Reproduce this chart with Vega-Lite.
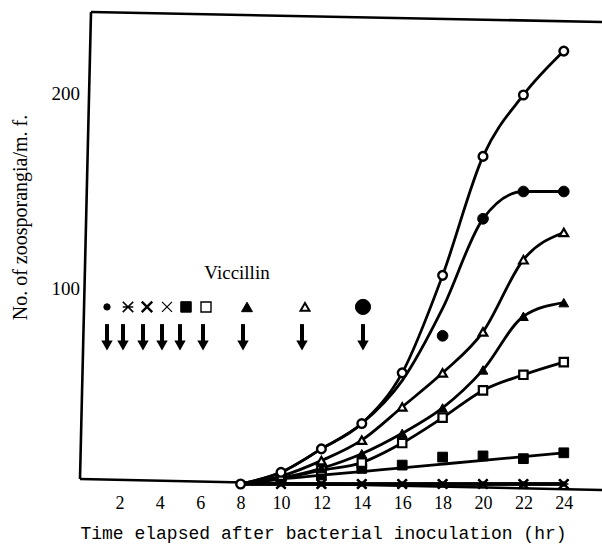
{
  "$schema": "https://vega.github.io/schema/vega-lite/v6.json",
  "width": 522,
  "height": 478,
  "autosize": "none",
  "padding": {"left": 80, "top": 12, "right": 0, "bottom": 57},
  "background": "white",
  "config": {"view": {"stroke": null}, "font": "Liberation Serif"},
  "datasets": {
    "pts": [
      {"s": "dot", "t": 8, "fit": 0, "n": null}, {"s": "dot", "t": 10, "fit": 0, "n": 0}, {"s": "dot", "t": 12, "fit": 0, "n": 0}, {"s": "dot", "t": 14, "fit": 0, "n": 0}, {"s": "dot", "t": 16, "fit": 0, "n": 0}, {"s": "dot", "t": 18, "fit": 0, "n": 0}, {"s": "dot", "t": 20, "fit": 0, "n": 0}, {"s": "dot", "t": 22, "fit": 0, "n": 0}, {"s": "dot", "t": 24, "fit": 0, "n": 0},
      {"s": "ast", "t": 8, "fit": 0, "n": null}, {"s": "ast", "t": 10, "fit": 0, "n": 0}, {"s": "ast", "t": 12, "fit": 0, "n": 0}, {"s": "ast", "t": 14, "fit": 0, "n": 0}, {"s": "ast", "t": 16, "fit": 0, "n": 0}, {"s": "ast", "t": 18, "fit": 0, "n": 0}, {"s": "ast", "t": 20, "fit": 0, "n": 0}, {"s": "ast", "t": 22, "fit": 0, "n": 0}, {"s": "ast", "t": 24, "fit": 0, "n": 0},
      {"s": "xb", "t": 8, "fit": 0, "n": null}, {"s": "xb", "t": 10, "fit": 0, "n": 0}, {"s": "xb", "t": 12, "fit": 0, "n": 0}, {"s": "xb", "t": 14, "fit": 0, "n": 0}, {"s": "xb", "t": 16, "fit": 0, "n": 0}, {"s": "xb", "t": 18, "fit": 0, "n": 0}, {"s": "xb", "t": 20, "fit": 0, "n": 0}, {"s": "xb", "t": 22, "fit": 0, "n": 0}, {"s": "xb", "t": 24, "fit": 0, "n": 0},
      {"s": "x", "t": 8, "fit": 0, "n": null}, {"s": "x", "t": 10, "fit": 0, "n": 0}, {"s": "x", "t": 12, "fit": 0, "n": 0}, {"s": "x", "t": 14, "fit": 0, "n": 0}, {"s": "x", "t": 16, "fit": 0, "n": 0}, {"s": "x", "t": 18, "fit": 0, "n": 0}, {"s": "x", "t": 20, "fit": 0, "n": 0}, {"s": "x", "t": 22, "fit": 0, "n": 0}, {"s": "x", "t": 24, "fit": 0, "n": 0},
      {"s": "fs", "t": 8, "fit": 0, "n": null}, {"s": "fs", "t": 10, "fit": 2.5, "n": 3}, {"s": "fs", "t": 12, "fit": 4.5, "n": 4.6}, {"s": "fs", "t": 14, "fit": 6.4, "n": 8}, {"s": "fs", "t": 16, "fit": 8.3, "n": 9.7}, {"s": "fs", "t": 18, "fit": 10.2, "n": 13.8}, {"s": "fs", "t": 20, "fit": 12.1, "n": 14.4}, {"s": "fs", "t": 22, "fit": 14, "n": 13}, {"s": "fs", "t": 24, "fit": 16, "n": 16},
      {"s": "os", "t": 8, "fit": 0, "n": null}, {"s": "os", "t": 10, "fit": 3, "n": 3}, {"s": "os", "t": 12, "fit": 7, "n": 7}, {"s": "os", "t": 14, "fit": 11, "n": 11}, {"s": "os", "t": 16, "fit": 21, "n": 21}, {"s": "os", "t": 18, "fit": 34, "n": 34}, {"s": "os", "t": 20, "fit": 48, "n": 48}, {"s": "os", "t": 22, "fit": 56, "n": 56}, {"s": "os", "t": 24, "fit": 62.5, "n": 62.5},
      {"s": "ft", "t": 8, "fit": 0, "n": null}, {"s": "ft", "t": 10, "fit": 3, "n": 3}, {"s": "ft", "t": 12, "fit": 8, "n": 8}, {"s": "ft", "t": 14, "fit": 15.5, "n": 15.5}, {"s": "ft", "t": 16, "fit": 26, "n": 26}, {"s": "ft", "t": 18, "fit": 39, "n": 39}, {"s": "ft", "t": 20, "fit": 58.5, "n": 58.5}, {"s": "ft", "t": 22, "fit": 86, "n": 86}, {"s": "ft", "t": 24, "fit": 93, "n": 93},
      {"s": "ot", "t": 8, "fit": 0, "n": null}, {"s": "ot", "t": 10, "fit": 4, "n": 4}, {"s": "ot", "t": 12, "fit": 12, "n": 12}, {"s": "ot", "t": 14, "fit": 22.5, "n": 22.5}, {"s": "ot", "t": 16, "fit": 39.5, "n": 39.5}, {"s": "ot", "t": 18, "fit": 57, "n": 57}, {"s": "ot", "t": 20, "fit": 78, "n": 78}, {"s": "ot", "t": 22, "fit": 115, "n": 115}, {"s": "ot", "t": 24, "fit": 129, "n": 129},
      {"s": "fc", "t": 8, "fit": 0, "n": null}, {"s": "fc", "t": 10, "fit": 6, "n": null}, {"s": "fc", "t": 12, "fit": 18, "n": null}, {"s": "fc", "t": 14, "fit": 31, "n": null}, {"s": "fc", "t": 16, "fit": 53, "n": null}, {"s": "fc", "t": 18, "fit": 90, "n": 76}, {"s": "fc", "t": 20, "fit": 136, "n": 136}, {"s": "fc", "t": 22, "fit": 150, "n": 150}, {"s": "fc", "t": 24, "fit": 150, "n": 150},
      {"s": "oc", "t": 8, "fit": 0, "n": 0}, {"s": "oc", "t": 10, "fit": 6, "n": 6}, {"s": "oc", "t": 12, "fit": 18, "n": 18}, {"s": "oc", "t": 14, "fit": 31, "n": 31}, {"s": "oc", "t": 16, "fit": 57, "n": 57}, {"s": "oc", "t": 18, "fit": 107, "n": 107}, {"s": "oc", "t": 20, "fit": 168, "n": 168}, {"s": "oc", "t": 22, "fit": 199.5, "n": 199.5}, {"s": "oc", "t": 24, "fit": 222, "n": 222}
    ],
    "key": [
      {"s": "k-dot", "t": 1.386, "n": 90.8},
      {"s": "k-ast", "t": 2.426, "n": 90.8},
      {"s": "k-xb", "t": 3.366, "n": 90.8},
      {"s": "k-x", "t": 4.356, "n": 90.8},
      {"s": "k-fs", "t": 5.297, "n": 90.8},
      {"s": "k-os", "t": 6.287, "n": 90.8},
      {"s": "k-ft", "t": 8.317, "n": 90.8},
      {"s": "k-ot", "t": 11.188, "n": 90.8},
      {"s": "k-fc", "t": 14.059, "n": 90.8}
    ],
    "arrows": [
      {"t": 1.386, "top": 82, "bottom": 71}, {"t": 2.178, "top": 82, "bottom": 71}, {"t": 3.168, "top": 82, "bottom": 71}, {"t": 4.109, "top": 82, "bottom": 71}, {"t": 5.0, "top": 82, "bottom": 71}, {"t": 6.139, "top": 82, "bottom": 71}, {"t": 8.119, "top": 82, "bottom": 71}, {"t": 11.04, "top": 82, "bottom": 71}, {"t": 14.059, "top": 82, "bottom": 71}
    ],
    "labels": [
      {"t": 7.822, "n": 108.2, "label": "Viccillin"}
    ],
    "frame": [{}]
  },
  "layer": [
    {
      "data": {"name": "pts"},
      "mark": {"type": "line", "interpolate": "monotone", "color": "black", "strokeWidth": 2.8},
      "encoding": {
        "x": {"field": "t", "type": "quantitative", "scale": {"domain": [0.0495, 25.891], "nice": false, "zero": false},
          "axis": {"values": [2, 4, 6, 8, 10, 12, 14, 16, 18, 20, 22, 24], "title": "Time elapsed after bacterial inoculation (hr)", "domain": false, "ticks": false, "tickSize": 0, "grid": false, "labelFlush": false, "labelFont": "Liberation Serif", "labelFontSize": 18, "labelColor": "black", "labelBaseline": "alphabetic", "labelPadding": 18, "titleFont": "Liberation Mono", "titleFontSize": 18, "titleFontWeight": "normal", "titleColor": "black", "titleX": 243, "titleY": 48, "titleAlign": "center", "titleBaseline": "alphabetic"}},
        "y": {"field": "fit", "type": "quantitative", "scale": {"domain": [-3.077, 242.05], "nice": false, "zero": false},
          "axis": {"values": [100, 200], "title": "No. of zoosporangia/m. f.", "domain": false, "ticks": false, "tickSize": 0, "grid": false, "labelFlush": false, "labelFont": "Liberation Serif", "labelFontSize": 19, "labelColor": "black", "labelPadding": 0.5, "titleFont": "Liberation Serif", "titleFontSize": 20, "titleFontWeight": "normal", "titleColor": "black", "titleX": -60, "titleY": 205, "titleAngle": -90, "titleAlign": "center", "titleBaseline": "middle"}},
        "detail": {"field": "s"}
      }
    },
    {
      "data": {"name": "frame"},
      "mark": {"type": "rule", "color": "black", "strokeWidth": 2.6},
      "encoding": {"x": {"datum": 0.594, "type": "quantitative"}, "y": {"datum": 242.05, "type": "quantitative"}, "x2": {"datum": 25.891}, "y2": {"datum": 236.92}}
    },
    {
      "data": {"name": "frame"},
      "mark": {"type": "rule", "color": "black", "strokeWidth": 2.6},
      "encoding": {"x": {"datum": 0.594, "type": "quantitative"}, "y": {"datum": 242.05, "type": "quantitative"}, "x2": {"datum": 0.0495}, "y2": {"datum": 2.564}}
    },
    {
      "data": {"name": "frame"},
      "mark": {"type": "rule", "color": "black", "strokeWidth": 2.6},
      "encoding": {"x": {"datum": 0.0495, "type": "quantitative"}, "y": {"datum": 2.564, "type": "quantitative"}, "x2": {"datum": 25.891}, "y2": {"datum": -3.077}}
    },
    {
      "data": {"name": "pts"},
      "mark": {"type": "point", "stroke": "black", "opacity": 1, "fillOpacity": 1, "strokeOpacity": 1},
      "encoding": {
        "x": {"field": "t", "type": "quantitative"},
        "y": {"field": "n", "type": "quantitative"},
        "shape": {"field": "s", "type": "nominal", "legend": null, "scale": {"domain": ["oc", "fc", "ot", "ft", "os", "fs", "dot", "ast", "xb", "x", "k-fc", "k-ot", "k-ft", "k-os", "k-fs", "k-dot", "k-ast", "k-xb", "k-x"], "range": ["circle", "circle", "triangle-up", "triangle-up", "square", "square", "circle", "M-1,-1L1,1M-1,1L1,-1M-1,0L1,0", "M-1,-1L1,1M-1,1L1,-1", "M-1,-1L1,1M-1,1L1,-1", "circle", "triangle-up", "triangle-up", "square", "square", "circle", "M-1,-1L1,1M-1,1L1,-1M-1,0L1,0", "M-1,-1L1,1M-1,1L1,-1", "M-1,-1L1,1M-1,1L1,-1"]}},
        "fill": {"field": "s", "type": "nominal", "legend": null, "scale": {"domain": ["oc", "fc", "ot", "ft", "os", "fs", "dot", "ast", "xb", "x", "k-fc", "k-ot", "k-ft", "k-os", "k-fs", "k-dot", "k-ast", "k-xb", "k-x"], "range": ["white", "black", "white", "black", "white", "black", "black", "black", "black", "black", "black", "white", "black", "white", "black", "black", "black", "black", "black"]}},
        "strokeWidth": {"field": "s", "type": "nominal", "legend": null, "scale": {"type": "ordinal", "domain": ["oc", "fc", "ot", "ft", "os", "fs", "dot", "ast", "xb", "x", "k-fc", "k-ot", "k-ft", "k-os", "k-fs", "k-dot", "k-ast", "k-xb", "k-x"], "range": [2.4, 1, 2.2, 1, 2.2, 1, 1, 1.6, 2.6, 1.4, 1, 2, 1, 1.4, 1, 1, 1.6, 2.4, 1.2]}},
        "size": {"field": "s", "type": "nominal", "legend": null, "scale": {"type": "ordinal", "domain": ["oc", "fc", "ot", "ft", "os", "fs", "dot", "ast", "xb", "x", "k-fc", "k-ot", "k-ft", "k-os", "k-fs", "k-dot", "k-ast", "k-xb", "k-x"], "range": [75, 115, 75, 95, 70, 95, 20, 85, 85, 85, 230, 80, 120, 100, 110, 40, 110, 110, 100]}}
      }
    },
    {
      "data": {"name": "key"},
      "mark": {"type": "point", "stroke": "black", "opacity": 1, "fillOpacity": 1, "strokeOpacity": 1},
      "encoding": {
        "x": {"field": "t", "type": "quantitative"},
        "y": {"field": "n", "type": "quantitative"},
        "shape": {"field": "s", "type": "nominal", "legend": null},
        "fill": {"field": "s", "type": "nominal", "legend": null},
        "strokeWidth": {"field": "s", "type": "nominal", "legend": null, "scale": {"type": "ordinal"}},
        "size": {"field": "s", "type": "nominal", "legend": null, "scale": {"type": "ordinal"}}
      }
    },
    {
      "data": {"name": "arrows"},
      "mark": {"type": "rule", "color": "black", "strokeWidth": 4},
      "encoding": {
        "x": {"field": "t", "type": "quantitative"},
        "y": {"field": "top", "type": "quantitative"},
        "y2": {"field": "bottom"}
      }
    },
    {
      "data": {"name": "arrows"},
      "mark": {"type": "point", "shape": "triangle-down", "filled": true, "color": "black", "opacity": 1, "size": 130},
      "encoding": {
        "x": {"field": "t", "type": "quantitative"},
        "y": {"field": "bottom", "type": "quantitative"}
      }
    },
    {
      "data": {"name": "labels"},
      "mark": {"type": "text", "font": "Liberation Serif", "fontSize": 19, "color": "black", "baseline": "middle", "align": "center"},
      "encoding": {
        "x": {"field": "t", "type": "quantitative"},
        "y": {"field": "n", "type": "quantitative"},
        "text": {"field": "label"}
      }
    }
  ]
}
